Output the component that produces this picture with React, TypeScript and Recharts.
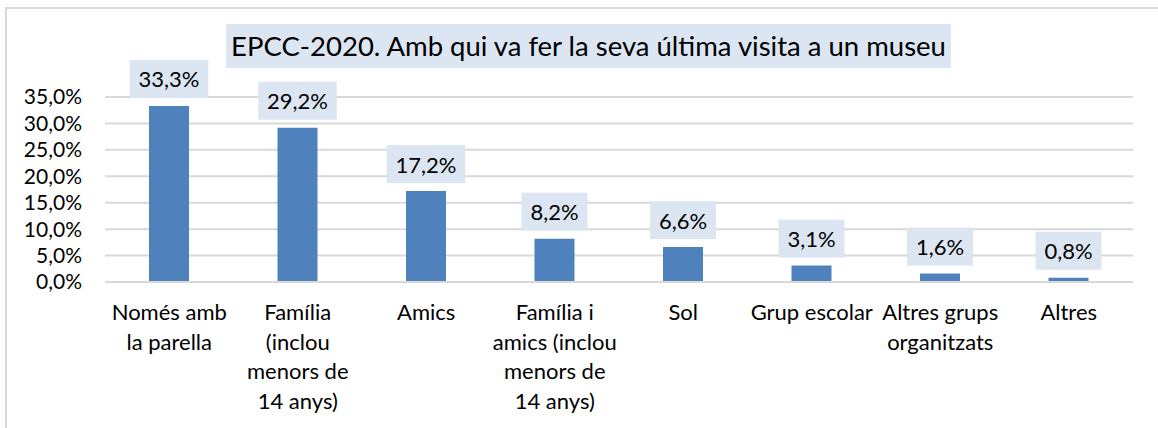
import React from "react";
import { BarChart, Bar, XAxis, YAxis, CartesianGrid, LabelList } from "recharts";

const categories: string[] = [
  "Només amb\nla parella",
  "Família\n(inclou\nmenors de\n14 anys)",
  "Amics",
  "Família i\namics (inclou\nmenors de\n14 anys)",
  "Sol",
  "Grup escolar",
  "Altres grups\norganitzats",
  "Altres",
];
const values: number[] = [33.3, 29.2, 17.2, 8.2, 6.6, 3.1, 1.6, 0.8];
const yTicks: number[] = [0, 5, 10, 15, 20, 25, 30, 35];
const title = "EPCC-2020. Amb qui va fer la seva última visita a un museu";

const data = categories.map((c, i) => ({ name: c, value: values[i] }));

const FONT = "Lato, 'Open Sans', sans-serif";
const fmt = (v: number) => v.toFixed(1).replace(".", ",") + "%";

const XTick = (props: any) => {
  const { x, y, payload } = props;
  const lines = String(payload.value).split("\n");
  return (
    <g>
      {lines.map((l: string, i: number) => (
        <text
          key={i}
          x={x}
          y={y + 38 + i * 29.5}
          textAnchor="middle"
          fontFamily={FONT}
          fontSize={22}
          fill="#000"
        >
          {l}
        </text>
      ))}
    </g>
  );
};

const DataLabel = (props: any) => {
  const { x, y, width, value } = props;
  const cx = x + width / 2;
  const txt = fmt(Number(value));
  const w = txt.length * 12.5 + 16;
  const h = 38;
  const bottom = y - 8;
  return (
    <g>
      <rect x={cx - w / 2} y={bottom - h} width={w} height={h} fill="#DCE6F2" />
      <text
        x={cx}
        y={bottom - h / 2}
        dominantBaseline="central"
        textAnchor="middle"
        fontFamily={FONT}
        fontSize={22}
        fill="#000"
      >
        {txt}
      </text>
    </g>
  );
};

export default function App() {
  return (
    <div style={{ position: "absolute", left: 0, top: 0, width: 1158, height: 428, background: "#fff" }}>
      <div
        style={{
          position: "absolute",
          left: 5,
          top: 7,
          width: 1153,
          height: 421,
          borderLeft: "2px solid #D9D9D9",
          borderTop: "2px solid #D9D9D9",
          boxSizing: "border-box",
        }}
      />
      <div style={{ position: "absolute", left: 0, top: 0 }}>
        <BarChart
          width={1158}
          height={428}
          data={data}
          margin={{ top: 97, right: 25, bottom: 6, left: 0 }}
        >
          <CartesianGrid vertical={false} stroke="#D9D9D9" strokeWidth={2} />
          <XAxis
            dataKey="name"
            interval={0}
            height={140}
            tickSize={0}
            tickMargin={0}
            tickLine={false}
            axisLine={{ stroke: "#D9D9D9", strokeWidth: 2 }}
            tick={<XTick />}
          />
          <YAxis
            domain={[0, 35]}
            ticks={yTicks}
            interval={0}
            width={105}
            tickSize={0}
            tickMargin={23}
            tickLine={false}
            axisLine={false}
            tickFormatter={fmt}
            tick={{ fontFamily: FONT, fontSize: 21, fill: "#000" }}
          />
          <Bar dataKey="value" fill="#4F81BD" barSize={40} isAnimationActive={false}>
            <LabelList dataKey="value" content={<DataLabel />} />
          </Bar>
        </BarChart>
      </div>
      <div
        style={{
          position: "absolute",
          left: 226,
          top: 24,
          width: 725,
          height: 44,
          background: "#DCE6F2",
          textAlign: "center",
          lineHeight: "44px",
          fontFamily: FONT,
          fontSize: 27.5,
          color: "#000",
          whiteSpace: "nowrap",
        }}
      >
        {title}
      </div>
    </div>
  );
}
